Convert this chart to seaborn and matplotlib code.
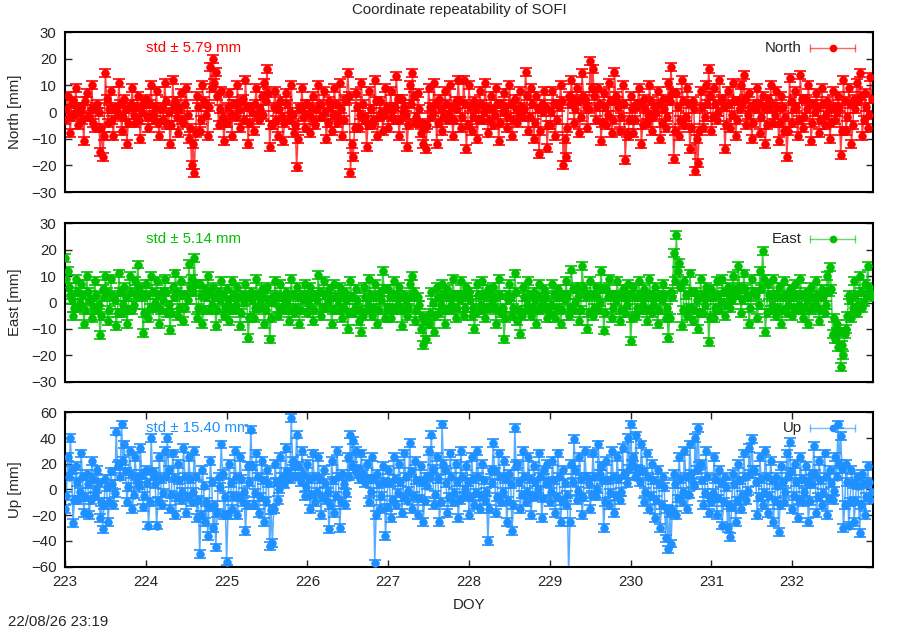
import numpy as np
import pandas as pd
import matplotlib
matplotlib.use("Agg")
import matplotlib.pyplot as plt
import seaborn as sns

# ---DATA---
# one sample every 24 min, DOY 223 .. 233 (one row per day)
doy_start = 223
samples_per_day = 60

north = [
    -3, 1, 6, -2, -8, 3, 4, -1, 9, 2, -5, 0, 2, -3, -11, 4, 7, -2, -2, 1, 10, -4, -6, 2, 3, 0, -15, -6, -17, -9,
    14.5, 5, -4, 1, 8, -3, -9, 2, 1, -1, 11, 3, -7, -2, 5, 1, -12, -4, 2, 3, 9, -1, -4, 2, 6, -3, -10, 0, 3, 4,
    5, -2, -6, 3, 10, -1, -3, 2, 8, -4, -9, 1, 2, -3, 11, 4, -5, 0, -12, -5, 12, 2, 4, -2, -8, 1, 7, -3, -4, 3,
    9, -1, -10, -6, -20, -12, -23, -8, 6, 2, -7, -3, 10, 4, 3, -1, -9, 2, 17, 9, 20, 11, 15, 6, -5, 1, 8, -2, -11, -4,
    -4, 2, 7, -1, -9, 3, 3, -2, 10, 1, -6, 4, 5, -3, 12, 2, -12, -4, 2, 0, -7, 3, 9, -2, -3, 1, 6, -1, 11, 4,
    16, 7, -13, -5, -5, 2, 8, -3, -9, 1, 4, -2, -11, -4, 7, 3, -3, 0, 10, -1, -8, -5, -20.5, -10, 2, 1, 9, -2, -6, 3,
    3, -1, -8, 2, 6, -3, -5, 1, 10, 3, -2, -2, 8, 0, -10, -4, 4, 2, -7, -1, 9, 3, -4, -2, 11, 1, -9, -3, 5, 4,
    14.5, 6, -23, -12, -17, -6, 7, 2, -6, -1, 11, 3, -3, -2, -13, -5, 8, 1, -5, -3, 12, 4, -9, -2, 4, 0, -7, -1, 9, 2,
    -6, 1, 8, -2, -3, 2, 13.5, 5, -9, -3, 5, 0, 2, -1, -13, -5, 10, 3, 14.5, 6, -4, -2, 7, 1, -8, -4, -12, -6, -14, -5,
    9, 2, -2, 0, 11, 3, -12, -4, 5, 1, -7, -2, 8, 3, -3, -1, 10, 2, -9, -3, 4, 1, 12, 4, -6, -2, 12, 3, -14, -5,
    10, 2, -7, -2, 4, 1, -10, -3, 8, 3, -3, 0, 11, 2, -8, -3, 6, 1, -5, -1, 9, 3, -11, -4, 3, 0, 7, 2, -6, -2,
    10, 3, -9, -3, 5, 1, -4, -1, 8, 2, -2, 1, 15, 6, -7, -2, 9, 3, -10, -4, 6, 1, -15.6, -7, 3, 0, 8, 2, -13.5, -5,
    -5, 0, 8, 3, -9, -3, 3, 2, 10, 4, -20, -10, -17, -6, 6, 3, 12, 5, -4, 1, 9, 4, -8, -2, 14.7, 6, 5, 2, -6, 1,
    19, 9, 16, 6, -3, 2, 9, 3, -11, -4, 7, 2, -5, -1, 11, 4, -8, -3, 15, 6, 4, 2, -7, -2, 10, 3, -18, -8, -9, -3,
    6, 1, -8, -3, 3, 2, 9, 3, -12, -5, 5, 1, -4, -1, 10, 4, -7, -2, 2, 0, 8, 3, -10, -4, 5, 1, -6, -2, 11, 4,
    17, 7, -17.6, -7, 7, 2, -9, -3, 12, 4, -5, -2, 9, 3, -14, -6, 4, 1, -22, -10, -19, -7, 8, 2, -6, -2, 10, 3, 16, 6,
    -7, -2, 9, 3, -3, 0, 12, 4, 5, 2, -14, -5, 8, 3, -6, -1, 11, 4, -9, -3, 4, 1, 10, 3, 14, 5, -5, -1, 7, 2,
    -10, -4, 3, 1, 9, 3, -8, -2, 6, 2, -12, -5, 5, 1, 10, 3, -4, -1, 8, 2, -11, -4, 6, 2, -7, -2, -16.7, -7, 12.6, 4,
    -4, 1, 8, 2, -9, -3, 14, 5, -6, -2, 5, 1, 10, 3, -11, -4, 3, 0, 7, 2, -8, -3, 9, 3, -5, -1, 4, 1, -10, -4,
    8, 2, -3, 0, 6, 2, -16, -7, 12, 4, -7, -2, 9, 3, -12, -5, 5, 1, 11, 4, 14.5, 6, -9, -3, 7, 2, -6, -1, 13, 5,
]

east = [
    16.7, 9, 12, 6, 3, 1, -5, -2, 9, 4, -2, 0, 7, 3, -8, -3, 10, 4, 1, 1, -6, -2, 8, 3, -3, -1, -12.4, -5, 5, 2,
    10, 4, -7, -3, 9, 3, 2, 1, -9, -4, 11, 4, -4, -1, 6, 2, -8, -3, 10, 4, -3, -1, 8, 3, 14.4, 6, 4, 2, -11.7, -4,
    7, 3, -6, -2, 10, 4, -2, 0, 8, 3, -8, -3, 4, 1, 9, 4, -4, -1, -10.5, -4, 6, 2, 11, 4, -5, -2, 8, 3, -7, -2,
    3, 1, 14.5, 6, 9, 4, 16.7, 7, -6, -2, 7, 3, -8, -3, 5, 2, 10, 4, -3, -1, 6, 2, -9, -3, 4, 1, 8, 3, -5, -2,
    5, 1, -7, -3, 8, 3, -3, -1, 6, 2, -9, -4, 3, 0, 7, 2, -13.6, -6, 4, 1, -6, -2, 9, 3, -2, 0, 5, 2, -8, -3,
    6, 1, -14, -6, 2, 0, 8, 3, -5, -2, 7, 2, -3, -1, 4, 1, -7, -3, 9, 3, -4, -2, 6, 2, -8, -3, 3, 1, 7, 2,
    -4, -1, 6, 2, -7, -3, 3, 1, 10.4, 4, -5, -2, 8, 3, -2, 0, 5, 2, -8, -3, 7, 2, -3, -1, 6, 2, -6, -2, 4, 1,
    -10, -4, 8, 2, -4, -2, 5, 1, -7, -3, -11, -5, 6, 2, -3, -1, 9, 3, -5, -2, 7, 2, -8, -3, 4, 1, 12, 5, -6, -2,
    5, 2, -6, -2, 8, 3, -3, -1, 6, 2, -9, -3, 3, 1, -5, -2, 7, 2, 10, 4, -7, -3, 2, -1, -10, -5, -16.2, -7, -14, -6,
    -8, -4, 4, 0, -11, -5, 6, 2, -4, -1, 7, 3, -8, -3, 5, 2, -3, -1, 9, 3, -6, -2, 3, 1, 8, 3, -5, -2, 6, 2,
    4, 1, -5, -2, -10, -4, 7, 3, -3, -1, 8, 3, -6, -2, 5, 2, -2, 0, 6, 2, -8, -3, 9, 3, -4, -2, -14, -6, 3, 1,
    7, 2, -5, -2, 11, 4, -7, -3, -12, -5, 6, 2, -3, -1, 8, 3, -5, -2, 4, 1, -8, -3, 7, 2, -2, 0, 5, 2, -6, -2,
    -4, -1, 7, 3, -6, -2, 5, 2, -8, -3, 3, 1, 8, 3, -5, -2, 12.5, 5, -3, 0, 6, 2, -7, -3, 14, 6, 4, 2, -10, -4,
    8, 3, -5, -2, 6, 2, -3, 0, 12, 5, -10.6, -4, 5, 2, 9, 3, -6, -2, 3, 1, 8, 3, -7, -3, 5, 2, -4, -1, 7, 3,
    -14.6, -6, 6, 2, -5, -2, 8, 3, -3, -1, 5, 2, -7, -3, 9, 3, -4, -1, 6, 2, -8, -3, 3, 1, 7, 3, -6, -2, -13.6, -6,
    4, 2, 18.6, 8, 25.5, 12, 14.8, 6, -9, -3, 8, 3, -5, -2, 11, 4, -7, -3, 4, 1, -10, -4, 9, 3, -4, -1, 6, 2, -15, -6,
    5, 2, -6, -2, 8, 3, -3, 0, 9, 4, -5, -1, 6, 3, -2, 1, 10, 5, 3, 3, 14, 6, -4, 1, 11, 5, 2, 2, -8, -2,
    9, 4, 4, 3, -6, -1, 12, 5, 19.5, 9, -11, -4, 7, 3, -3, -1, 9, 3, -5, -2, 6, 2, -8, -3, 8, 3, -4, -1, 5, 2,
    -5, -2, 7, 3, -3, -1, 9, 3, -6, -2, 4, 1, -8, -3, 6, 2, -2, 0, 8, 3, -7, -3, 5, 2, -4, -1, 10, 4, 13.5, 5,
    -12, -6, -14, -8, -17, -11, -24.4, -16, -20, -12, -10, -5, 3, 1, -6, -2, 8, 3, -4, -1, 10, 4, -2, 0, 7, 3, 14, 6, 4, 2,
]

up = [
    -15, -5, 25, 10, 40, 15, -26, -8, 18, 6, -8, -2, 28, 10, -18, -6, 12, 4, -20, -8, 22, 8, -5, 0, 15, 5, -22, -10, -31, -12,
    8, 2, -25, -10, 14, 4, -12, -3, 45, 18, 20, 10, 50.5, 22, 35, 14, -10, 2, 30, 12, -15, -4, 25, 10, 5, 3, 32, 12, -14, -5,
    15, 5, -28, -10, 40, 14, 10, 4, -28, -9, 25, 8, -12, -3, 30, 10, 40, 15, -15, -4, 28, 9, -20, -6, 20, 7, -8, -2, 32, 10,
    -18, -6, 25, 8, -10, -2, 30, 10, -22, -8, -50, -20, 15, 3, -25, -10, -36, -14, 22, 6, -30, -12, -45, -18, 10, 2, 35, 12, -20, -6,
    -56, -20, 20, 5, -15, -5, 30, 10, -20, -6, 25, 8, -10, -2, -32, -12, 18, 6, 46.6, 18, -12, -3, 28, 10, -18, -6, 22, 7, -25, -9,
    15, 5, -44, -16, -41.5, -15, 20, 6, -8, 0, 25, 10, 5, 4, 32, 14, 12, 8, 55.7, 22, 18, 10, 42.7, 18, 10, 6, 30, 12, -5, 2,
    20, 8, -15, -4, 28, 10, -10, -2, 25, 8, -20, -6, 15, 5, -8, -2, -31, -12, 22, 7, -18, -5, 30, 10, -30, -10, 12, 4, -12, -3,
    25, 10, 42.7, 18, 38, 16, 30, 12, 15, 8, 28, 12, 8, 5, 20, 8, -10, -2, 25, 8, -57.5, -20, 12, 4, -15, -5, 18, 6, -36, -14,
    15, 5, -22, -8, 25, 8, -12, -3, 20, 6, -18, -6, 28, 10, -8, -1, 36, 14, -15, -5, 22, 7, -20, -7, 18, 6, -25, -9, 10, 3,
    30, 10, 42.7, 16, -12, -4, 25, 8, -25, -10, 50.5, 20, 15, 5, -18, -6, 28, 10, -10, -3, 20, 6, -22, -8, 30, 10, -5, 0, 18, 6,
    -20, -6, 25, 8, -12, -3, 30, 10, -15, -5, 20, 7, -8, -2, -40, -15, 15, 5, 36, 14, -18, -6, 28, 10, -10, -2, 22, 8, -25, -9,
    12, 4, -32, -12, 48, 18, 20, 6, -15, -4, 30, 10, -10, -2, 25, 8, -20, -6, 18, 6, -5, 0, 28, 10, -22, -7, 15, 5, 20, 6,
    -10, -2, 22, 7, -18, -6, 28, 10, -25, -9, 15, 5, -12, -4, -66, -25, 20, 6, 39, 15, -8, -1, 25, 8, -20, -6, 30, 10, 10, 4,
    -15, -4, 28, 10, -5, 0, 35, 12, 18, 7, -30, -10, 22, 7, -12, -3, 30, 10, -18, -5, 25, 8, -8, -2, 32, 12, 12, 5, 40, 16,
    50.5, 20, 25, 10, 42, 16, 15, 6, 35, 14, -10, -2, 28, 10, -15, -5, 20, 7, -22, -8, 15, 4, -30, -12, 10, 2, -38, -15, -46.6, -18,
    -42, -16, 12, 4, -20, -7, 25, 8, -10, -2, 30, 10, -15, -4, 35, 12, 5, 3, 40, 15, 48, 18, 20, 7, -12, -3, 30, 10, -18, -6,
    -10, -3, 25, 8, -20, -7, 15, 5, -28, -10, 10, 2, -30, -12, -37, -14, 12, 4, -25, -9, 20, 7, -15, -4, 28, 10, -8, -1, 32, 12,
    39, 15, 15, 6, -20, -6, 25, 8, -12, -3, 30, 10, -18, -5, 22, 7, -25, -9, 10, 3, -33, -12, 18, 6, -10, -2, 28, 10, 37, 14,
    -15, -5, 20, 6, -22, -8, 25, 8, -10, -2, 18, 6, -25, -9, 12, 4, 33.7, 12, -18, -6, 22, 7, -12, -3, 28, 10, -20, -7, 15, 5,
    -8, -1, 25, 10, 50.5, 20, 41.5, 16, -30, -12, 20, 6, -28, -10, 15, 4, -25, -9, 10, 3, -34, -12, 12, 4, -20, -6, 18, 6, -8, -2,
]

# formal errors [mm]
sigma_north = 1.5
sigma_east = 1.5
sigma_up = 3.0

std_north = 5.79
std_east = 5.14
std_up = 15.40

doy = doy_start + np.arange(len(north)) / samples_per_day

components = [
    ("North", north, sigma_north, std_north, "#ff0000", 30, 10),
    ("East", east, sigma_east, std_east, "#00c000", 30, 10),
    ("Up", up, sigma_up, std_up, "#1e90ff", 60, 20),
]

# ---PLOT---
sns.set_theme(style="white")
plt.rcParams['font.family'] = ['Liberation Sans', 'DejaVu Sans']
fs = 10.8

fig = plt.figure(figsize=(9, 6.3), dpi=100)

# panel boxes in figure fractions (left, bottom, width, height)
boxes = [
    [0.0722, 0.6952, 0.8978, 0.2540],
    [0.0722, 0.3941, 0.8978, 0.2514],
    [0.0722, 0.1005, 0.8978, 0.2451],
]

for k, (name, vals, sig, std, color, ylim, ystep) in enumerate(components):
    ax = fig.add_axes(boxes[k])
    df = pd.DataFrame({'doy': doy, 'val': vals})

    sns.lineplot(data=df, x='doy', y='val', ax=ax, color=color, alpha=0.75,
                 linewidth=1.1, estimator=None, sort=False)
    ax.errorbar(df['doy'], df['val'], yerr=sig, fmt='none', ecolor=color,
                elinewidth=1.2, capsize=4, capthick=1.2)
    sns.scatterplot(data=df, x='doy', y='val', ax=ax, color=color, s=30,
                    edgecolor=color, linewidth=0.5, zorder=3)

    ax.set_xlim(223, 233)
    ax.set_ylim(-ylim, ylim)
    ax.set_yticks(np.arange(-ylim, ylim + 1, ystep))
    ax.set_xlabel('')
    ax.set_ylabel('')

    for sp in ax.spines.values():
        sp.set_linewidth(1.5)
        sp.set_color('black')

    ax.tick_params(axis='y', direction='in', length=5, width=1, left=True, right=True,
                   labelsize=fs, pad=6)
    if k == 2:
        ax.set_xticks(np.arange(223, 233, 1))
        ax.tick_params(axis='x', direction='in', length=5, width=1, bottom=True, top=True,
                       labelsize=fs, pad=6)
    else:
        ax.set_xticks([])

    # std label
    ax.text(0.1, 0.9, f"std \u00b1 {std:.2f} mm", transform=ax.transAxes,
            color=color, ha='left', va='center', fontsize=fs)

    # legend sample: key text + errorbar line
    ax.text(0.912, 0.9, name, transform=ax.transAxes, ha='right', va='center', fontsize=fs)
    ax.plot([0.922, 0.978], [0.9, 0.9], transform=ax.transAxes, color=color, alpha=0.6,
            linewidth=1, clip_on=False)
    ax.plot([0.922, 0.978], [0.9, 0.9], transform=ax.transAxes, linestyle='none',
            marker='|', markersize=6, markeredgewidth=1, color=color, alpha=0.6, clip_on=False)
    ax.plot([0.951], [0.9], transform=ax.transAxes, marker='o', markersize=4.5,
            color=color, clip_on=False)

ylabel_y = [0.822, 0.520, 0.223]
for (name, *_), yy in zip(components, ylabel_y):
    fig.text(0.0167, yy, f"{name} [mm]", rotation=90, ha='center', va='center', fontsize=fs)

fig.text(0.51, 0.984, "Coordinate repeatability of SOFI", ha='center', va='center', fontsize=fs)
fig.text(0.521, 0.04, "DOY", ha='center', va='center', fontsize=fs)
fig.text(0.009, 0.0127, "22/08/26 23:19", ha='left', va='center', fontsize=fs)

plt.savefig("out.png", dpi=100)
